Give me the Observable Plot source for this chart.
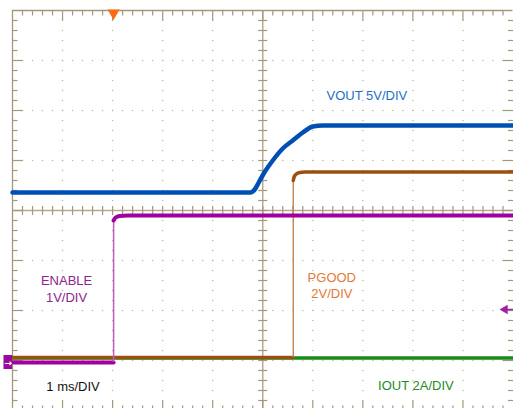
<!DOCTYPE html>
<html><head><meta charset="utf-8">
<script src="https://cdn.jsdelivr.net/npm/d3@7"></script>
<script src="https://cdn.jsdelivr.net/npm/@observablehq/plot@0.6"></script>
<style>html,body{margin:0;padding:0;background:#fff;overflow:hidden}</style>
</head><body><div id="chart"></div>
<script>
// Time in ms (1 ms/DIV), vertical values in screen divisions
const voutTime = [-5, -0.24, -0.16, -0.08, 0.02, 0.2, 0.4, 0.6, 0.8, 1.0, 1.2, 5];
const voutDiv  = [0.36, 0.36, 0.42, 0.56, 0.74, 1.0, 1.24, 1.4, 1.56, 1.68, 1.7, 1.7];

const pgoodStepTime = 0.61;
const pgoodLowTime = [-5, 0.61];
const pgoodLowDiv  = [-2.94, -2.94];
const pgoodHighTime = [0.61, 0.63, 0.67, 0.74, 0.84, 5];
const pgoodHighDiv  = [0.6, 0.68, 0.73, 0.76, 0.77, 0.77];

const enableStepTime = -2.98;
const enableLowTime = [-5, -2.98];
const enableLowDiv  = [-3.04, -3.04];
const enableHighTime = [-2.98, -2.94, -2.86, -2.7, 5];
const enableHighDiv  = [-0.2, -0.14, -0.11, -0.1, -0.1];

const ioutTime = [-5, 5];
const ioutDiv  = [-2.95, -2.95];

const labelTexts = ["VOUT 5V/DIV", "ENABLE", "1V/DIV", "PGOOD", "2V/DIV", "1 ms/DIV", "IOUT 2A/DIV"];

const pts = (ts, vs) => ts.map((t, i) => ({t, v: vs[i]}));

// graticule
const frame = "#a3987c";
const xs = d3.range(1, 50).map(i => ({p: -5 + i * 0.2, major: i % 5 === 0}));
const ys = d3.range(1, 40).map(i => ({p: -4 + i * 0.2, major: i % 5 === 0}));
const ticks = [];
for (const {p, major} of xs) {
  const L = major ? 0.2 : 0.1;
  ticks.push({x1: p, x2: p, y1: 4, y2: 4 - L});
  ticks.push({x1: p, x2: p, y1: -4, y2: -4 + L});
  ticks.push({x1: p, x2: p, y1: -0.09, y2: 0.09});
}
for (const {p, major} of ys) {
  const L = major ? 0.2 : 0.1;
  ticks.push({x1: -5, x2: -5 + L, y1: p, y2: p});
  ticks.push({x1: 5, x2: 5 - L, y1: p, y2: p});
  ticks.push({x1: -0.09, x2: 0.09, y1: p, y2: p});
}
const dots = [];
for (const gx of [-4, -3, -2, -1, 1, 2, 3, 4])
  for (const {p} of ys) dots.push({x: gx, y: p});
for (const gy of [-3, -2, -1, 1, 2, 3])
  for (const {p} of xs) dots.push({x: p, y: gy});

const font = "Liberation Sans, Arial, Helvetica, sans-serif";
const lbl = (i, x, y, color) => Plot.text([labelTexts[i]], {x: () => x, y: () => y, fill: color, fontSize: 13, fontFamily: font});

const chart = Plot.plot({
  width: 513, height: 408,
  margin: 0,
  style: {background: "#fff"},
  x: {domain: [-5, 5], range: [12, 512.5], axis: null},
  y: {domain: [-4, 4], range: [410, 10], axis: null},
  marks: [
    Plot.dot(dots, {x: "x", y: "y", r: 0.8, fill: "#c2b99f", stroke: null}),
    Plot.ruleY([0], {x1: -5, x2: 5, stroke: "#b5ab90", strokeWidth: 1.5}),
    Plot.ruleX([0], {y1: -4, y2: 4, stroke: "#b5ab90", strokeWidth: 1.5}),
    Plot.ruleY([4], {x1: -5, x2: 5, stroke: frame, strokeWidth: 1.3}),
    Plot.ruleX([-5], {y1: -4, y2: 4, stroke: frame, strokeWidth: 1.3}),
    Plot.link(ticks, {x1: "x1", x2: "x2", y1: "y1", y2: "y2", stroke: frame, strokeWidth: 1.2}),
    // IOUT
    Plot.line(pts(ioutTime, ioutDiv), {x: "t", y: "v", stroke: "#1a8a1a", strokeWidth: 3.5}),
    // PGOOD
    Plot.line(pts(pgoodLowTime, pgoodLowDiv), {x: "t", y: "v", stroke: "#9c5010", strokeWidth: 3.5}),
    Plot.ruleX([pgoodStepTime], {y1: pgoodLowDiv[0], y2: pgoodHighDiv[0], stroke: "#c48a5a", strokeWidth: 1.5}),
    Plot.line(pts(pgoodHighTime, pgoodHighDiv), {x: "t", y: "v", stroke: "#9c5010", strokeWidth: 3.5, curve: "monotone-x"}),
    // ENABLE
    Plot.line(pts(enableLowTime, enableLowDiv), {x: "t", y: "v", stroke: "#a000a0", strokeWidth: 4}),
    Plot.ruleX([enableStepTime], {y1: enableLowDiv[0], y2: enableHighDiv[0], stroke: "#c25ac2", strokeWidth: 1.5}),
    Plot.line(pts(enableHighTime, enableHighDiv), {x: "t", y: "v", stroke: "#a000a0", strokeWidth: 4, curve: "monotone-x"}),
    // VOUT
    Plot.line(pts(voutTime, voutDiv), {x: "t", y: "v", stroke: "#0050b4", strokeWidth: 4.5, curve: "monotone-x"}),
    // markers
    Plot.dot([0], {x: () => enableStepTime, y: () => 3.95, symbol: "triangle", rotate: 180, r: 4.5, fill: "#ff6a13", stroke: null}),
    Plot.rect([0], {x1: () => -5.17, x2: () => -5, y1: () => -2.9, y2: () => -3.18, fill: "#9a0a9a"}),
    Plot.text(["→"], {x: () => -5.085, y: () => -3.05, fill: "#fff", fontSize: 9, fontWeight: "bold", fontFamily: "DejaVu Sans"}),
    Plot.link([0], {x1: () => 4.82, x2: () => 5, y1: () => -1.98, y2: () => -1.98, stroke: "#a020a0", strokeWidth: 1.5}),
    Plot.dot([0], {x: () => 4.84, y: () => -1.98, symbol: "triangle", rotate: -90, r: 3.5, fill: "#a020a0", stroke: null}),
    // labels
    lbl(0, 2.08, 2.3, "#1f6fc6"),
    lbl(1, -3.92, -1.4, "#8e248e"),
    lbl(2, -3.92, -1.74, "#8e248e"),
    lbl(3, 1.38, -1.35, "#e47a35"),
    lbl(4, 1.38, -1.66, "#e47a35"),
    lbl(5, -3.79, -3.52, "#111"),
    lbl(6, 3.06, -3.51, "#1e8c1e")
  ]
});
document.getElementById("chart").appendChild(chart);
</script>
</body></html>
